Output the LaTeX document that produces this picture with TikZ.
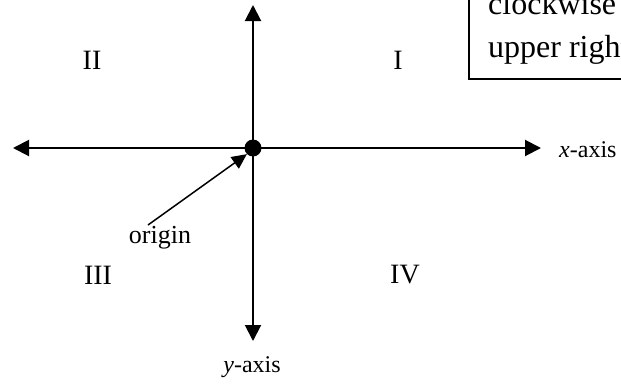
\documentclass[tikz,border=0pt]{standalone}
\usepackage{fontspec}
\setmainfont{Liberation Serif}
\usetikzlibrary{arrows.meta,positioning}

\begin{document}
\begin{tikzpicture}[
        x=1pt, y=-1pt,
        axis/.style={
            -{Triangle[length=16pt,width=16pt]},
            line width=2pt
        },
        quad/.style={
            font=\fontsize{28}{32}\selectfont
        },
        lbl/.style={
            font=\fontsize{24}{28}\selectfont,
            inner sep=0pt
        },
        note/.style={
            font=\fontsize{32}{38}\selectfont,
            inner sep=0pt,
            anchor=base west
        },
        node distance=0.45cm
    ]
    \useasboundingbox (0,0) rectangle (621,383);

    % the axes meet at the origin
    \node[circle, fill, inner sep=0pt, minimum size=17pt] (o) at (253,148) {};
    \coordinate (xl) at (13,148);
    \coordinate (xr) at (541,148);
    \coordinate (yt) at (253,5);
    \coordinate (yb) at (253,341);

    \draw[axis] (o.center) -- (xl);
    \draw[axis] (o.center) -- (xr);
    \draw[axis] (o.center) -- (yt);
    \draw[axis] (o.center) -- (yb);

    \node[lbl, anchor=west] (xlab) at (559,150) {\textit{x}-axis};
    \node[lbl, anchor=north] (ylab) at (252,356) {\textit{y}-axis};

    % quadrant numbers
    \node[quad] (q1) at (398,60) {I};
    \node[quad] (q2) at (92,60) {II};
    \node[quad] (q3) at (98,275) {III};
    \node[quad] (q4) at (405,275) {IV};

    % pointer to the origin
    \node[lbl, font=\fontsize{26}{30}\selectfont, anchor=base] (olab) at (160,243) {origin};
    \coordinate (ostart) at (148,225);
    \draw[-{Triangle[length=15pt,width=14pt]}, line width=1.5pt] (ostart) -- (o.south west);

    % note box, cut by the page edge
    \draw[line width=2pt] (650,-20) -| (469,79) -- (650,79);
    \node[note] (n1) at (488,14) {clockwise};
    \node[note] (n2) at (488,57) {upper right};
\end{tikzpicture}
\end{document}
